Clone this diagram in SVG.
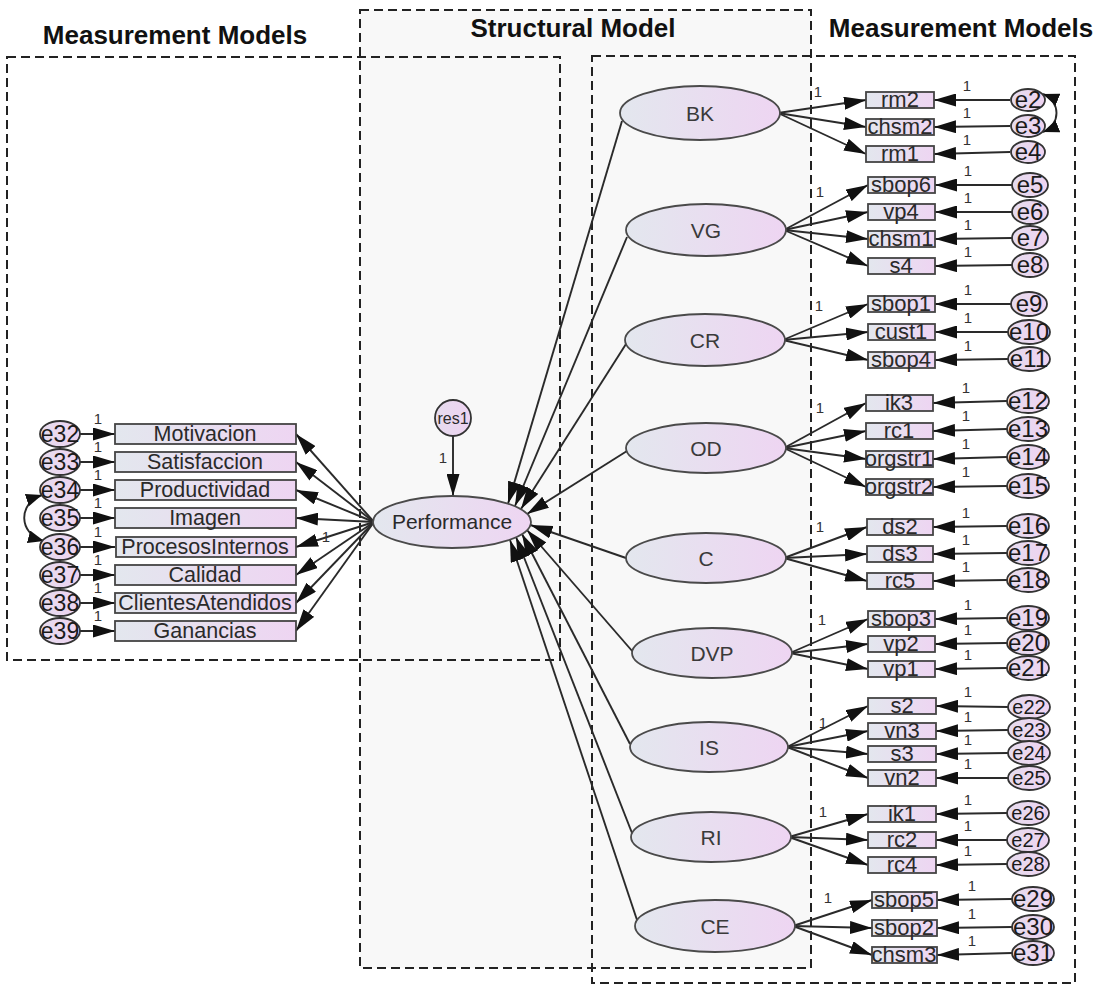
<svg xmlns="http://www.w3.org/2000/svg" width="1097" height="995" viewBox="0 0 1097 995">
<defs>
<linearGradient id="g" x1="0" y1="0" x2="1" y2="0"><stop offset="0" stop-color="#e3e7ee"/><stop offset="1" stop-color="#eed5f2"/></linearGradient>
<linearGradient id="ge" x1="0" y1="0" x2="1" y2="0"><stop offset="0" stop-color="#e6dcee"/><stop offset="1" stop-color="#eed3f1"/></linearGradient>
<marker id="ah" markerUnits="userSpaceOnUse" markerWidth="22" markerHeight="13" refX="22" refY="6.5" orient="auto"><path d="M0,0 L22,6.5 L0,13 z" fill="#111"/></marker>
<marker id="ac" markerUnits="userSpaceOnUse" markerWidth="16" markerHeight="13" refX="16" refY="6.5" orient="auto-start-reverse"><path d="M0,0 L16,6.5 L0,13 z" fill="#111"/></marker>
</defs>
<style>
.box{fill:none;stroke:#222;stroke-width:2;stroke-dasharray:9 5}
.lat{fill:url(#g);stroke:#4a4a4a;stroke-width:1.8}
.obs{fill:url(#g);stroke:#444;stroke-width:1.8}
.err{fill:url(#ge);stroke:#333;stroke-width:1.8}
.c line,.c path{stroke:#2a2a2a;stroke-width:1.9;fill:none;marker-end:url(#ah)}
.c .cov{marker-start:url(#ac);marker-end:url(#ac)}
text{font-family:"Liberation Sans",Arial,sans-serif;fill:#2a2a2a;text-anchor:middle}
.ttl{font-weight:bold;font-size:26px;fill:#111}
.lv{font-size:21px;fill:#3a3a3a}
.ov{font-size:22px}
.ovl{font-size:21.5px}
.ev{font-size:24px;fill:#1a1a1a}
.evs{font-size:20px;fill:#1a1a1a}
.evl{font-size:23px;fill:#1a1a1a}
.one{font-size:15px;fill:#333}
</style>
<rect x="0" y="0" width="1097" height="995" fill="#fff"/>
<g id="frames">
<rect x="360" y="10" width="451" height="958" fill="#f8f8f8" stroke="none"/>
<rect class="box" x="7" y="57" width="553" height="603"/>
<rect class="box" x="360" y="10" width="451" height="958"/>
<rect class="box" x="592" y="56" width="483" height="927"/>
<text class="ttl" x="175" y="44">Measurement Models</text>
<text class="ttl" x="573" y="37">Structural Model</text>
<text class="ttl" x="961" y="37">Measurement Models</text>
</g>
<g id="connectors" class="c">
<line x1="453" y1="436" x2="453" y2="496"/>
<line x1="622" y1="121" x2="508" y2="503.7"/>
<line x1="627" y1="237" x2="515" y2="506"/>
<line x1="626" y1="344" x2="521" y2="509"/>
<line x1="627" y1="451" x2="527" y2="514"/>
<line x1="626" y1="558" x2="530.5" y2="525"/>
<line x1="633" y1="652" x2="527" y2="530"/>
<line x1="630" y1="744" x2="522" y2="534"/>
<line x1="632" y1="833" x2="516" y2="537"/>
<line x1="637" y1="920" x2="510" y2="540"/>
<line x1="374" y1="522" x2="296" y2="434"/>
<line x1="374" y1="522" x2="296" y2="462"/>
<line x1="374" y1="522" x2="296" y2="490"/>
<line x1="374" y1="522" x2="296" y2="518"/>
<line x1="374" y1="522" x2="296" y2="547"/>
<line x1="374" y1="522" x2="296" y2="575"/>
<line x1="374" y1="522" x2="296" y2="603"/>
<line x1="374" y1="522" x2="296" y2="631"/>
<line x1="80" y1="434" x2="115" y2="434"/>
<line x1="80" y1="462" x2="115" y2="462"/>
<line x1="80" y1="490" x2="115" y2="490"/>
<line x1="80" y1="518" x2="115" y2="518"/>
<line x1="80" y1="547" x2="115" y2="547"/>
<line x1="80" y1="575" x2="115" y2="575"/>
<line x1="80" y1="603" x2="115" y2="603"/>
<line x1="80" y1="631" x2="115" y2="631"/>
<path class="cov" d="M42,495 C18,503 18,534 44,541"/>
<path class="cov" d="M1043,94 C1061,101 1061,125 1043,132"/>
<line x1="778" y1="113" x2="866" y2="100"/>
<line x1="778" y1="113" x2="866" y2="127"/>
<line x1="778" y1="113" x2="866" y2="154"/>
<line x1="784" y1="230" x2="868" y2="185"/>
<line x1="784" y1="230" x2="868" y2="212"/>
<line x1="784" y1="230" x2="868" y2="239"/>
<line x1="784" y1="230" x2="868" y2="266"/>
<line x1="783" y1="340" x2="868" y2="304"/>
<line x1="783" y1="340" x2="868" y2="332"/>
<line x1="783" y1="340" x2="868" y2="360"/>
<line x1="784" y1="448" x2="866" y2="403"/>
<line x1="784" y1="448" x2="866" y2="431"/>
<line x1="784" y1="448" x2="866" y2="459"/>
<line x1="784" y1="448" x2="866" y2="487"/>
<line x1="784" y1="558" x2="867" y2="527"/>
<line x1="784" y1="558" x2="867" y2="554"/>
<line x1="784" y1="558" x2="867" y2="581"/>
<line x1="790" y1="653" x2="868" y2="619"/>
<line x1="790" y1="653" x2="868" y2="644"/>
<line x1="790" y1="653" x2="868" y2="669"/>
<line x1="787" y1="747" x2="868" y2="706"/>
<line x1="787" y1="747" x2="868" y2="731"/>
<line x1="787" y1="747" x2="868" y2="754"/>
<line x1="787" y1="747" x2="868" y2="778"/>
<line x1="789" y1="837" x2="868" y2="814"/>
<line x1="789" y1="837" x2="868" y2="840"/>
<line x1="789" y1="837" x2="868" y2="865"/>
<line x1="793" y1="926" x2="872" y2="900"/>
<line x1="793" y1="926" x2="872" y2="928"/>
<line x1="793" y1="926" x2="872" y2="955"/>
<line x1="1010" y1="100" x2="934" y2="100"/>
<line x1="1010" y1="126" x2="934" y2="127"/>
<line x1="1010" y1="152" x2="934" y2="154"/>
<line x1="1012" y1="185" x2="935" y2="185"/>
<line x1="1012" y1="212" x2="935" y2="212"/>
<line x1="1012" y1="238" x2="935" y2="239"/>
<line x1="1012" y1="265" x2="935" y2="266"/>
<line x1="1011" y1="304" x2="935" y2="304"/>
<line x1="1008" y1="332" x2="935" y2="332"/>
<line x1="1008" y1="359" x2="935" y2="360"/>
<line x1="1007" y1="401" x2="933" y2="403"/>
<line x1="1007" y1="429" x2="933" y2="431"/>
<line x1="1007" y1="457" x2="933" y2="459"/>
<line x1="1007" y1="486" x2="933" y2="487"/>
<line x1="1007" y1="526" x2="933" y2="527"/>
<line x1="1007" y1="553" x2="933" y2="554"/>
<line x1="1007" y1="580" x2="933" y2="581"/>
<line x1="1007" y1="618" x2="935" y2="619"/>
<line x1="1007" y1="643" x2="935" y2="644"/>
<line x1="1007" y1="668" x2="935" y2="669"/>
<line x1="1008" y1="707" x2="936" y2="706"/>
<line x1="1008" y1="730" x2="936" y2="731"/>
<line x1="1008" y1="753" x2="936" y2="754"/>
<line x1="1008" y1="778" x2="936" y2="778"/>
<line x1="1007" y1="813" x2="936" y2="814"/>
<line x1="1007" y1="840" x2="936" y2="840"/>
<line x1="1007" y1="864" x2="936" y2="865"/>
<line x1="1012" y1="899" x2="937" y2="900"/>
<line x1="1012" y1="927" x2="937" y2="928"/>
<line x1="1012" y1="953" x2="937" y2="955"/>
</g>
<g id="path-labels">
<text class="one" x="443" y="463">1</text>
<text class="one" x="326" y="542">1</text>
<text class="one" x="98" y="424">1</text>
<text class="one" x="98" y="452">1</text>
<text class="one" x="98" y="480">1</text>
<text class="one" x="98" y="508">1</text>
<text class="one" x="98" y="537">1</text>
<text class="one" x="98" y="565">1</text>
<text class="one" x="98" y="593">1</text>
<text class="one" x="98" y="621">1</text>
<text class="one" x="818" y="97">1</text>
<text class="one" x="820" y="197">1</text>
<text class="one" x="819" y="311">1</text>
<text class="one" x="820" y="413">1</text>
<text class="one" x="820" y="532">1</text>
<text class="one" x="822" y="625">1</text>
<text class="one" x="823" y="728">1</text>
<text class="one" x="823" y="817">1</text>
<text class="one" x="828" y="903">1</text>
<text class="one" x="967" y="91">1</text>
<text class="one" x="967" y="118">1</text>
<text class="one" x="967" y="145">1</text>
<text class="one" x="968" y="176">1</text>
<text class="one" x="968" y="203">1</text>
<text class="one" x="968" y="230">1</text>
<text class="one" x="968" y="257">1</text>
<text class="one" x="968" y="295">1</text>
<text class="one" x="968" y="323">1</text>
<text class="one" x="968" y="351">1</text>
<text class="one" x="966" y="393">1</text>
<text class="one" x="966" y="421">1</text>
<text class="one" x="966" y="449">1</text>
<text class="one" x="966" y="477">1</text>
<text class="one" x="966" y="518">1</text>
<text class="one" x="966" y="545">1</text>
<text class="one" x="966" y="572">1</text>
<text class="one" x="968" y="610">1</text>
<text class="one" x="968" y="635">1</text>
<text class="one" x="968" y="660">1</text>
<text class="one" x="968" y="697">1</text>
<text class="one" x="968" y="722">1</text>
<text class="one" x="968" y="745">1</text>
<text class="one" x="968" y="769">1</text>
<text class="one" x="968" y="805">1</text>
<text class="one" x="968" y="831">1</text>
<text class="one" x="968" y="856">1</text>
<text class="one" x="972" y="891">1</text>
<text class="one" x="972" y="919">1</text>
<text class="one" x="972" y="946">1</text>
</g>
<g id="Performance"><ellipse class="lat" cx="452" cy="522" rx="79" ry="26"/><text x="452" y="529" font-size="21" fill="#3a3a3a">Performance</text></g>
<g id="res1"><circle class="err" cx="453" cy="418" r="18"/><text x="453" y="424" font-size="16">res1</text></g>
<g id="BK"><ellipse class="lat" cx="700" cy="113" rx="80" ry="27"/><text class="lv" x="700" y="121">BK</text></g>
<g id="VG"><ellipse class="lat" cx="706" cy="230" rx="80" ry="26"/><text class="lv" x="706" y="238">VG</text></g>
<g id="CR"><ellipse class="lat" cx="705" cy="340" rx="80" ry="26"/><text class="lv" x="705" y="348">CR</text></g>
<g id="OD"><ellipse class="lat" cx="706" cy="448" rx="80" ry="25"/><text class="lv" x="706" y="456">OD</text></g>
<g id="C"><ellipse class="lat" cx="706" cy="558" rx="80" ry="25"/><text class="lv" x="706" y="566">C</text></g>
<g id="DVP"><ellipse class="lat" cx="712" cy="653" rx="80" ry="25"/><text class="lv" x="712" y="661">DVP</text></g>
<g id="IS"><ellipse class="lat" cx="709" cy="747" rx="79" ry="25"/><text class="lv" x="709" y="755">IS</text></g>
<g id="RI"><ellipse class="lat" cx="711" cy="837" rx="80" ry="25"/><text class="lv" x="711" y="845">RI</text></g>
<g id="CE"><ellipse class="lat" cx="715" cy="926" rx="80" ry="26"/><text class="lv" x="715" y="934">CE</text></g>
<g id="Motivacion"><rect class="obs" x="115" y="424" width="181" height="20"/><text class="ovl" x="205" y="441">Motivacion</text></g>
<g id="Satisfaccion"><rect class="obs" x="115" y="452" width="181" height="20"/><text class="ovl" x="205" y="469">Satisfaccion</text></g>
<g id="Productividad"><rect class="obs" x="115" y="480" width="181" height="20"/><text class="ovl" x="205" y="497">Productividad</text></g>
<g id="Imagen"><rect class="obs" x="115" y="508" width="181" height="20"/><text class="ovl" x="205" y="525">Imagen</text></g>
<g id="ProcesosInternos"><rect class="obs" x="116" y="537" width="180" height="20"/><text class="ovl" x="205" y="554">ProcesosInternos</text></g>
<g id="Calidad"><rect class="obs" x="115" y="565" width="181" height="20"/><text class="ovl" x="205" y="582">Calidad</text></g>
<g id="ClientesAtendidos"><rect class="obs" x="115" y="593" width="181" height="20"/><text class="ovl" x="205" y="610">ClientesAtendidos</text></g>
<g id="Ganancias"><rect class="obs" x="115" y="621" width="181" height="20"/><text class="ovl" x="205" y="638">Ganancias</text></g>
<g id="e32"><ellipse class="err" cx="60" cy="434" rx="20" ry="13"/><text class="evl" x="60" y="442">e32</text></g>
<g id="e33"><ellipse class="err" cx="60" cy="462" rx="20" ry="13"/><text class="evl" x="60" y="470">e33</text></g>
<g id="e34"><ellipse class="err" cx="60" cy="490" rx="20" ry="13"/><text class="evl" x="60" y="498">e34</text></g>
<g id="e35"><ellipse class="err" cx="60" cy="518" rx="20" ry="13"/><text class="evl" x="60" y="526">e35</text></g>
<g id="e36"><ellipse class="err" cx="60" cy="547" rx="20" ry="13"/><text class="evl" x="60" y="555">e36</text></g>
<g id="e37"><ellipse class="err" cx="60" cy="575" rx="20" ry="13"/><text class="evl" x="60" y="583">e37</text></g>
<g id="e38"><ellipse class="err" cx="60" cy="603" rx="20" ry="13"/><text class="evl" x="60" y="611">e38</text></g>
<g id="e39"><ellipse class="err" cx="60" cy="631" rx="20" ry="13"/><text class="evl" x="60" y="639">e39</text></g>
<g id="rm2"><rect class="obs" x="866" y="92" width="68" height="16"/><text class="ov" x="900" y="107">rm2</text></g>
<g id="chsm2"><rect class="obs" x="866" y="119" width="68" height="16"/><text class="ov" x="900" y="134">chsm2</text></g>
<g id="rm1"><rect class="obs" x="866" y="146" width="68" height="16"/><text class="ov" x="900" y="161">rm1</text></g>
<g id="sbop6"><rect class="obs" x="868" y="177" width="67" height="16"/><text class="ov" x="901" y="192">sbop6</text></g>
<g id="vp4"><rect class="obs" x="868" y="204" width="67" height="16"/><text class="ov" x="901" y="219">vp4</text></g>
<g id="chsm1"><rect class="obs" x="868" y="231" width="67" height="16"/><text class="ov" x="901" y="246">chsm1</text></g>
<g id="s4"><rect class="obs" x="868" y="258" width="67" height="16"/><text class="ov" x="901" y="273">s4</text></g>
<g id="sbop1"><rect class="obs" x="868" y="296" width="67" height="16"/><text class="ov" x="901" y="311">sbop1</text></g>
<g id="cust1"><rect class="obs" x="868" y="324" width="67" height="16"/><text class="ov" x="901" y="339">cust1</text></g>
<g id="sbop4"><rect class="obs" x="868" y="352" width="67" height="16"/><text class="ov" x="901" y="367">sbop4</text></g>
<g id="ik3"><rect class="obs" x="866" y="395" width="67" height="16"/><text class="ov" x="899" y="410">ik3</text></g>
<g id="rc1"><rect class="obs" x="866" y="423" width="67" height="16"/><text class="ov" x="899" y="438">rc1</text></g>
<g id="orgstr1"><rect class="obs" x="866" y="451" width="67" height="16"/><text class="ov" x="899" y="466">orgstr1</text></g>
<g id="orgstr2"><rect class="obs" x="866" y="479" width="67" height="16"/><text class="ov" x="899" y="494">orgstr2</text></g>
<g id="ds2"><rect class="obs" x="867" y="519" width="66" height="16"/><text class="ov" x="900" y="534">ds2</text></g>
<g id="ds3"><rect class="obs" x="867" y="546" width="66" height="16"/><text class="ov" x="900" y="561">ds3</text></g>
<g id="rc5"><rect class="obs" x="867" y="573" width="66" height="16"/><text class="ov" x="900" y="588">rc5</text></g>
<g id="sbop3"><rect class="obs" x="868" y="611" width="67" height="16"/><text class="ov" x="901" y="626">sbop3</text></g>
<g id="vp2"><rect class="obs" x="868" y="636" width="67" height="16"/><text class="ov" x="901" y="651">vp2</text></g>
<g id="vp1"><rect class="obs" x="868" y="661" width="67" height="16"/><text class="ov" x="901" y="676">vp1</text></g>
<g id="s2"><rect class="obs" x="868" y="698" width="68" height="16"/><text class="ov" x="902" y="713">s2</text></g>
<g id="vn3"><rect class="obs" x="868" y="723" width="68" height="16"/><text class="ov" x="902" y="738">vn3</text></g>
<g id="s3"><rect class="obs" x="868" y="746" width="68" height="16"/><text class="ov" x="902" y="761">s3</text></g>
<g id="vn2"><rect class="obs" x="868" y="770" width="68" height="16"/><text class="ov" x="902" y="785">vn2</text></g>
<g id="ik1"><rect class="obs" x="868" y="806" width="68" height="16"/><text class="ov" x="902" y="821">ik1</text></g>
<g id="rc2"><rect class="obs" x="868" y="832" width="68" height="16"/><text class="ov" x="902" y="847">rc2</text></g>
<g id="rc4"><rect class="obs" x="868" y="857" width="68" height="16"/><text class="ov" x="902" y="872">rc4</text></g>
<g id="sbop5"><rect class="obs" x="872" y="892" width="65" height="16"/><text class="ov" x="904" y="907">sbop5</text></g>
<g id="sbop2"><rect class="obs" x="872" y="920" width="65" height="16"/><text class="ov" x="904" y="935">sbop2</text></g>
<g id="chsm3"><rect class="obs" x="872" y="947" width="65" height="16"/><text class="ov" x="904" y="962">chsm3</text></g>
<g id="e2"><ellipse class="err" cx="1028" cy="100" rx="17" ry="11"/><text class="ev" x="1028" y="108">e2</text></g>
<g id="e3"><ellipse class="err" cx="1028" cy="126" rx="17" ry="11"/><text class="ev" x="1028" y="134">e3</text></g>
<g id="e4"><ellipse class="err" cx="1028" cy="152" rx="17" ry="11"/><text class="ev" x="1028" y="160">e4</text></g>
<g id="e5"><ellipse class="err" cx="1030" cy="185" rx="18" ry="12"/><text class="ev" x="1030" y="193">e5</text></g>
<g id="e6"><ellipse class="err" cx="1030" cy="212" rx="18" ry="12"/><text class="ev" x="1030" y="220">e6</text></g>
<g id="e7"><ellipse class="err" cx="1030" cy="238" rx="18" ry="12"/><text class="ev" x="1030" y="246">e7</text></g>
<g id="e8"><ellipse class="err" cx="1030" cy="265" rx="18" ry="12"/><text class="ev" x="1030" y="273">e8</text></g>
<g id="e9"><ellipse class="err" cx="1029" cy="304" rx="18" ry="12"/><text class="ev" x="1029" y="312">e9</text></g>
<g id="e10"><ellipse class="err" cx="1029" cy="332" rx="21" ry="12"/><text class="ev" x="1029" y="340">e10</text></g>
<g id="e11"><ellipse class="err" cx="1029" cy="359" rx="21" ry="12"/><text class="ev" x="1029" y="367">e11</text></g>
<g id="e12"><ellipse class="err" cx="1028" cy="401" rx="21" ry="12"/><text class="ev" x="1028" y="409">e12</text></g>
<g id="e13"><ellipse class="err" cx="1028" cy="429" rx="21" ry="12"/><text class="ev" x="1028" y="437">e13</text></g>
<g id="e14"><ellipse class="err" cx="1028" cy="457" rx="21" ry="12"/><text class="ev" x="1028" y="465">e14</text></g>
<g id="e15"><ellipse class="err" cx="1028" cy="486" rx="21" ry="12"/><text class="ev" x="1028" y="494">e15</text></g>
<g id="e16"><ellipse class="err" cx="1028" cy="526" rx="21" ry="12"/><text class="ev" x="1028" y="534">e16</text></g>
<g id="e17"><ellipse class="err" cx="1028" cy="553" rx="21" ry="12"/><text class="ev" x="1028" y="561">e17</text></g>
<g id="e18"><ellipse class="err" cx="1028" cy="580" rx="21" ry="12"/><text class="ev" x="1028" y="588">e18</text></g>
<g id="e19"><ellipse class="err" cx="1028" cy="618" rx="21" ry="12"/><text class="ev" x="1028" y="626">e19</text></g>
<g id="e20"><ellipse class="err" cx="1028" cy="643" rx="21" ry="12"/><text class="ev" x="1028" y="651">e20</text></g>
<g id="e21"><ellipse class="err" cx="1028" cy="668" rx="21" ry="12"/><text class="ev" x="1028" y="676">e21</text></g>
<g id="e22"><ellipse class="err" cx="1029" cy="707" rx="21" ry="12"/><text class="evs" x="1029" y="714">e22</text></g>
<g id="e23"><ellipse class="err" cx="1029" cy="730" rx="21" ry="12"/><text class="evs" x="1029" y="737">e23</text></g>
<g id="e24"><ellipse class="err" cx="1029" cy="753" rx="21" ry="12"/><text class="evs" x="1029" y="760">e24</text></g>
<g id="e25"><ellipse class="err" cx="1029" cy="778" rx="21" ry="12"/><text class="evs" x="1029" y="785">e25</text></g>
<g id="e26"><ellipse class="err" cx="1028" cy="813" rx="21" ry="12"/><text class="evs" x="1028" y="820">e26</text></g>
<g id="e27"><ellipse class="err" cx="1028" cy="840" rx="21" ry="12"/><text class="evs" x="1028" y="847">e27</text></g>
<g id="e28"><ellipse class="err" cx="1028" cy="864" rx="21" ry="12"/><text class="evs" x="1028" y="871">e28</text></g>
<g id="e29"><ellipse class="err" cx="1033" cy="899" rx="21" ry="12"/><text class="ev" x="1033" y="907">e29</text></g>
<g id="e30"><ellipse class="err" cx="1033" cy="927" rx="21" ry="12"/><text class="ev" x="1033" y="935">e30</text></g>
<g id="e31"><ellipse class="err" cx="1033" cy="953" rx="21" ry="12"/><text class="ev" x="1033" y="961">e31</text></g>
</svg>
